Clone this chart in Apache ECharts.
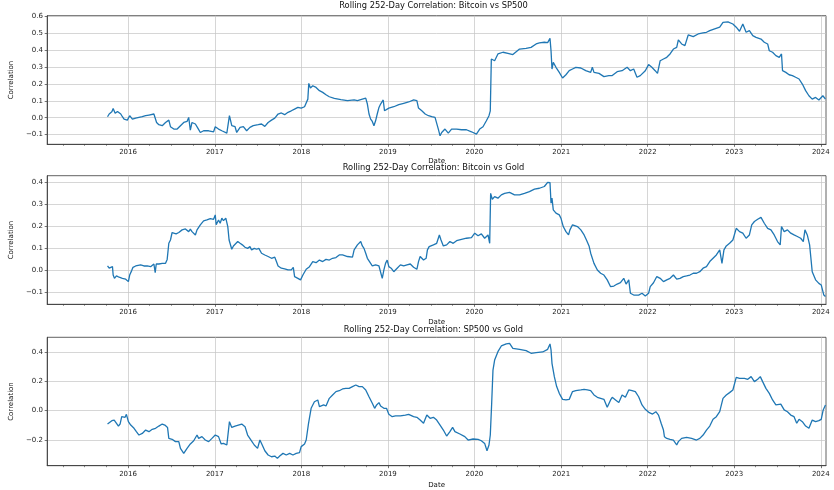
<!DOCTYPE html>
<html>
<head>
<meta charset="utf-8">
<script src="https://cdn.jsdelivr.net/npm/echarts@6/dist/echarts.min.js"></script>
<style>
html,body{margin:0;padding:0;background:#fff;}
#chart{width:834px;height:490px;}
</style>
</head>
<body>
<div id="chart"></div>
<script>
// ---- data: dates as decimal years ----
const titles = [
  'Rolling 252-Day Correlation: Bitcoin vs SP500',
  'Rolling 252-Day Correlation: Bitcoin vs Gold',
  'Rolling 252-Day Correlation: SP500 vs Gold'
];
const yearTicks = [2016, 2017, 2018, 2019, 2020, 2021, 2022, 2023, 2024];
const yTicks1 = [-0.1, 0.0, 0.1, 0.2, 0.3, 0.4, 0.5, 0.6];
const yTicks2 = [-0.1, 0.0, 0.1, 0.2, 0.3, 0.4];
const yTicks3 = [-0.2, 0.0, 0.2, 0.4];

const t1 = [2015.763,2015.782,2015.813,2015.828,2015.851,2015.878,2015.897,2015.916,2015.935,2015.954,2015.992,2016.019,2016.031,2016.050,2016.088,2016.126,2016.164,2016.203,2016.241,2016.298,2016.317,2016.329,2016.355,2016.394,2016.432,2016.470,2016.489,2016.527,2016.566,2016.604,2016.642,2016.680,2016.699,2016.718,2016.737,2016.776,2016.806,2016.833,2016.871,2016.929,2016.986,2017.005,2017.043,2017.081,2017.139,2017.158,2017.169,2017.196,2017.234,2017.253,2017.292,2017.330,2017.368,2017.406,2017.444,2017.502,2017.540,2017.578,2017.616,2017.655,2017.693,2017.731,2017.769,2017.807,2017.846,2017.884,2017.922,2017.960,2017.998,2018.037,2018.056,2018.075,2018.086,2018.105,2018.132,2018.170,2018.209,2018.247,2018.285,2018.323,2018.381,2018.457,2018.533,2018.610,2018.648,2018.705,2018.744,2018.763,2018.782,2018.801,2018.820,2018.839,2018.858,2018.877,2018.897,2018.916,2018.935,2018.946,2018.961,2018.984,2019.011,2019.068,2019.126,2019.183,2019.240,2019.298,2019.335,2019.354,2019.392,2019.431,2019.469,2019.507,2019.545,2019.564,2019.583,2019.603,2019.622,2019.660,2019.698,2019.736,2019.794,2019.851,2019.908,2019.966,2020.023,2020.061,2020.099,2020.138,2020.168,2020.183,2020.195,2020.214,2020.233,2020.271,2020.329,2020.386,2020.443,2020.520,2020.596,2020.653,2020.711,2020.749,2020.806,2020.844,2020.871,2020.883,2020.894,2020.909,2020.940,2020.978,2021.016,2021.055,2021.093,2021.131,2021.169,2021.227,2021.284,2021.341,2021.360,2021.379,2021.437,2021.494,2021.551,2021.590,2021.647,2021.704,2021.762,2021.800,2021.838,2021.876,2021.914,2021.972,2022.010,2022.048,2022.086,2022.113,2022.144,2022.182,2022.220,2022.258,2022.297,2022.335,2022.354,2022.373,2022.392,2022.430,2022.468,2022.526,2022.583,2022.640,2022.679,2022.717,2022.774,2022.832,2022.870,2022.927,2022.984,2023.023,2023.061,2023.099,2023.137,2023.175,2023.214,2023.252,2023.309,2023.347,2023.386,2023.405,2023.443,2023.481,2023.520,2023.546,2023.558,2023.596,2023.634,2023.672,2023.710,2023.749,2023.787,2023.825,2023.863,2023.901,2023.940,2023.978,2024.024,2024.054];
const v1 = [0.006,0.022,0.035,0.055,0.026,0.037,0.041,0.022,0.006,-0.008,-0.014,0.012,0.020,-0.008,-0.002,0.002,0.006,0.012,0.016,0.022,0.026,-0.028,-0.041,-0.047,-0.028,-0.014,-0.053,-0.067,-0.067,-0.047,-0.028,-0.022,0.002,-0.073,-0.028,-0.037,-0.063,-0.087,-0.077,-0.077,-0.083,-0.053,-0.067,-0.077,-0.091,-0.087,0.012,-0.047,-0.053,-0.087,-0.057,-0.053,-0.077,-0.057,-0.047,-0.041,-0.037,-0.051,-0.028,-0.014,-0.002,0.022,0.028,0.018,0.032,0.041,0.051,0.061,0.057,0.065,0.071,0.110,0.203,0.176,0.189,0.179,0.160,0.150,0.136,0.124,0.114,0.107,0.101,0.105,0.101,0.110,0.116,0.081,0.022,-0.008,-0.022,-0.047,-0.018,0.022,0.061,0.081,0.091,0.105,0.041,0.051,0.057,0.065,0.077,0.085,0.093,0.105,0.101,0.057,0.041,0.022,0.012,0.006,0.002,-0.002,-0.067,-0.107,-0.087,-0.067,-0.091,-0.067,-0.067,-0.071,-0.071,-0.083,-0.097,-0.067,-0.053,-0.018,0.012,0.041,0.347,0.357,0.337,0.377,0.387,0.381,0.373,0.406,0.410,0.416,0.436,0.442,0.446,0.444,0.469,0.396,0.288,0.327,0.298,0.268,0.235,0.254,0.278,0.288,0.298,0.294,0.278,0.268,0.298,0.268,0.262,0.243,0.249,0.249,0.272,0.278,0.298,0.278,0.288,0.239,0.249,0.278,0.314,0.298,0.278,0.262,0.337,0.347,0.357,0.377,0.406,0.416,0.460,0.471,0.436,0.426,0.489,0.479,0.495,0.501,0.505,0.515,0.525,0.535,0.564,0.566,0.554,0.535,0.511,0.554,0.505,0.515,0.485,0.475,0.465,0.446,0.436,0.396,0.387,0.367,0.357,0.377,0.278,0.268,0.254,0.249,0.239,0.229,0.199,0.160,0.130,0.110,0.120,0.105,0.130,0.110];

const t2 = [2015.763,2015.782,2015.794,2015.805,2015.820,2015.828,2015.843,2015.866,2015.897,2015.935,2015.973,2016.004,2016.019,2016.042,2016.057,2016.088,2016.107,2016.145,2016.183,2016.222,2016.260,2016.298,2016.313,2016.325,2016.355,2016.394,2016.432,2016.451,2016.470,2016.489,2016.508,2016.527,2016.554,2016.585,2016.623,2016.661,2016.699,2016.718,2016.737,2016.776,2016.795,2016.833,2016.871,2016.909,2016.948,2016.986,2017.005,2017.016,2017.043,2017.062,2017.081,2017.100,2017.127,2017.150,2017.165,2017.181,2017.196,2017.215,2017.234,2017.265,2017.292,2017.318,2017.349,2017.379,2017.406,2017.425,2017.456,2017.483,2017.509,2017.540,2017.578,2017.616,2017.655,2017.693,2017.712,2017.731,2017.769,2017.807,2017.846,2017.865,2017.884,2017.907,2017.922,2017.960,2017.991,2018.018,2018.056,2018.094,2018.132,2018.170,2018.209,2018.247,2018.285,2018.323,2018.361,2018.400,2018.438,2018.476,2018.533,2018.591,2018.610,2018.648,2018.686,2018.705,2018.724,2018.744,2018.763,2018.782,2018.801,2018.820,2018.858,2018.897,2018.935,2018.954,2018.973,2018.992,2019.011,2019.038,2019.068,2019.107,2019.145,2019.183,2019.221,2019.259,2019.297,2019.335,2019.354,2019.373,2019.392,2019.412,2019.442,2019.457,2019.477,2019.488,2019.526,2019.564,2019.595,2019.614,2019.641,2019.679,2019.717,2019.755,2019.794,2019.851,2019.908,2019.966,2020.004,2020.042,2020.080,2020.118,2020.157,2020.176,2020.187,2020.206,2020.233,2020.271,2020.310,2020.348,2020.405,2020.462,2020.520,2020.577,2020.634,2020.692,2020.749,2020.806,2020.844,2020.871,2020.883,2020.894,2020.909,2020.940,2020.978,2020.997,2021.024,2021.055,2021.085,2021.101,2021.131,2021.188,2021.227,2021.265,2021.292,2021.322,2021.341,2021.379,2021.418,2021.456,2021.494,2021.532,2021.571,2021.609,2021.647,2021.685,2021.723,2021.750,2021.781,2021.800,2021.838,2021.857,2021.895,2021.934,2021.972,2022.010,2022.029,2022.067,2022.105,2022.144,2022.182,2022.220,2022.258,2022.297,2022.335,2022.373,2022.411,2022.449,2022.488,2022.526,2022.564,2022.602,2022.640,2022.679,2022.717,2022.755,2022.793,2022.832,2022.858,2022.881,2022.908,2022.946,2022.984,2023.023,2023.061,2023.099,2023.137,2023.175,2023.202,2023.233,2023.271,2023.309,2023.347,2023.386,2023.424,2023.462,2023.500,2023.531,2023.546,2023.577,2023.615,2023.653,2023.691,2023.729,2023.768,2023.798,2023.817,2023.844,2023.871,2023.901,2023.940,2023.978,2024.005,2024.035,2024.054];
const v2 = [0.018,0.008,0.015,0.000,0.015,-0.023,-0.038,-0.027,-0.033,-0.038,-0.042,-0.053,-0.023,-0.003,0.012,0.018,0.027,0.023,0.018,0.018,0.015,0.027,-0.012,0.027,0.027,0.030,0.030,0.048,0.121,0.136,0.170,0.167,0.164,0.170,0.182,0.186,0.174,0.185,0.174,0.159,0.182,0.205,0.223,0.227,0.233,0.230,0.250,0.205,0.227,0.212,0.235,0.224,0.235,0.197,0.136,0.144,0.094,0.109,0.103,0.129,0.121,0.114,0.103,0.098,0.106,0.091,0.098,0.094,0.098,0.076,0.068,0.061,0.053,0.058,0.038,0.018,0.008,0.005,0.000,-0.008,0.000,0.012,-0.030,-0.038,-0.045,-0.023,0.003,0.015,0.038,0.033,0.045,0.038,0.048,0.045,0.053,0.056,0.068,0.068,0.061,0.058,0.091,0.114,0.129,0.109,0.098,0.076,0.053,0.061,0.030,0.018,0.023,0.018,-0.038,0.000,0.030,0.045,0.015,0.008,-0.008,0.008,0.023,0.018,0.023,0.027,0.012,0.003,0.038,0.061,0.068,0.045,0.053,0.091,0.106,0.114,0.114,0.121,0.159,0.136,0.109,0.114,0.129,0.121,0.133,0.139,0.144,0.147,0.167,0.155,0.164,0.144,0.159,0.121,0.348,0.321,0.333,0.326,0.341,0.348,0.352,0.341,0.341,0.348,0.356,0.367,0.371,0.379,0.398,0.397,0.303,0.326,0.273,0.258,0.250,0.235,0.197,0.174,0.159,0.182,0.205,0.197,0.182,0.159,0.136,0.109,0.076,0.030,0.000,-0.015,-0.023,-0.045,-0.076,-0.073,-0.064,-0.058,-0.038,-0.064,-0.045,-0.106,-0.114,-0.121,-0.114,-0.106,-0.118,-0.106,-0.076,-0.058,-0.030,-0.038,-0.053,-0.045,-0.038,-0.023,-0.042,-0.038,-0.030,-0.027,-0.023,-0.015,-0.015,-0.008,0.008,0.015,0.038,0.053,0.068,0.091,0.030,0.091,0.109,0.121,0.136,0.189,0.174,0.167,0.144,0.159,0.205,0.220,0.230,0.239,0.212,0.189,0.182,0.159,0.129,0.114,0.197,0.174,0.182,0.167,0.159,0.152,0.144,0.129,0.182,0.159,0.114,-0.008,-0.045,-0.061,-0.068,-0.114,-0.121];

const t3 = [2015.763,2015.782,2015.813,2015.840,2015.859,2015.889,2015.908,2015.927,2015.943,2015.966,2015.981,2016.004,2016.031,2016.069,2016.096,2016.126,2016.164,2016.203,2016.241,2016.279,2016.317,2016.355,2016.394,2016.424,2016.455,2016.470,2016.508,2016.546,2016.585,2016.604,2016.642,2016.680,2016.718,2016.757,2016.795,2016.814,2016.852,2016.890,2016.929,2016.967,2017.005,2017.043,2017.074,2017.100,2017.139,2017.158,2017.169,2017.196,2017.234,2017.272,2017.311,2017.349,2017.379,2017.418,2017.456,2017.494,2017.521,2017.548,2017.578,2017.616,2017.655,2017.693,2017.723,2017.750,2017.788,2017.826,2017.865,2017.903,2017.941,2017.979,2017.998,2018.037,2018.056,2018.083,2018.113,2018.151,2018.190,2018.209,2018.228,2018.258,2018.285,2018.323,2018.361,2018.400,2018.438,2018.476,2018.514,2018.552,2018.591,2018.629,2018.667,2018.705,2018.744,2018.782,2018.820,2018.847,2018.870,2018.897,2018.916,2018.954,2018.984,2019.011,2019.050,2019.088,2019.145,2019.202,2019.240,2019.297,2019.335,2019.373,2019.412,2019.450,2019.488,2019.526,2019.564,2019.603,2019.641,2019.679,2019.717,2019.748,2019.775,2019.832,2019.889,2019.927,2019.985,2020.042,2020.080,2020.118,2020.145,2020.168,2020.183,2020.199,2020.214,2020.233,2020.271,2020.310,2020.367,2020.405,2020.443,2020.520,2020.596,2020.653,2020.711,2020.787,2020.844,2020.871,2020.883,2020.894,2020.921,2020.948,2020.978,2021.016,2021.055,2021.093,2021.131,2021.169,2021.227,2021.265,2021.303,2021.341,2021.379,2021.418,2021.456,2021.494,2021.532,2021.571,2021.590,2021.628,2021.666,2021.704,2021.742,2021.781,2021.819,2021.857,2021.895,2021.934,2021.972,2022.018,2022.056,2022.094,2022.125,2022.155,2022.182,2022.193,2022.220,2022.258,2022.297,2022.335,2022.354,2022.392,2022.449,2022.507,2022.564,2022.602,2022.640,2022.679,2022.717,2022.755,2022.793,2022.832,2022.870,2022.908,2022.946,2022.984,2023.023,2023.061,2023.118,2023.156,2023.195,2023.233,2023.271,2023.301,2023.328,2023.366,2023.405,2023.443,2023.481,2023.538,2023.577,2023.615,2023.653,2023.691,2023.722,2023.749,2023.787,2023.825,2023.863,2023.901,2023.940,2023.978,2024.005,2024.028,2024.054];
const v3 = [-0.091,-0.082,-0.068,-0.064,-0.075,-0.105,-0.091,-0.041,-0.030,-0.045,-0.025,-0.075,-0.098,-0.120,-0.143,-0.166,-0.155,-0.132,-0.143,-0.127,-0.120,-0.105,-0.091,-0.098,-0.114,-0.189,-0.195,-0.211,-0.211,-0.257,-0.291,-0.257,-0.227,-0.205,-0.166,-0.189,-0.177,-0.200,-0.211,-0.189,-0.166,-0.177,-0.227,-0.223,-0.234,-0.245,-0.075,-0.114,-0.105,-0.098,-0.091,-0.109,-0.166,-0.200,-0.234,-0.257,-0.200,-0.234,-0.273,-0.302,-0.314,-0.309,-0.325,-0.309,-0.291,-0.302,-0.291,-0.302,-0.291,-0.286,-0.245,-0.227,-0.200,-0.086,0.016,0.061,0.073,0.027,0.016,0.039,0.032,0.084,0.107,0.130,0.136,0.148,0.152,0.152,0.164,0.175,0.164,0.164,0.141,0.095,0.050,0.016,0.039,0.055,0.032,0.016,0.016,-0.025,-0.041,-0.036,-0.036,-0.030,-0.025,-0.041,-0.045,-0.064,-0.086,-0.030,-0.052,-0.045,-0.064,-0.098,-0.132,-0.173,-0.143,-0.114,-0.143,-0.159,-0.177,-0.200,-0.193,-0.195,-0.205,-0.223,-0.273,-0.234,-0.166,0.050,0.277,0.345,0.402,0.441,0.455,0.459,0.425,0.418,0.409,0.391,0.395,0.400,0.418,0.455,0.414,0.323,0.232,0.164,0.118,0.077,0.073,0.077,0.130,0.136,0.141,0.145,0.141,0.136,0.107,0.091,0.084,0.077,0.023,0.073,0.091,0.073,0.055,0.107,0.091,0.141,0.136,0.130,0.095,0.039,0.009,-0.014,-0.023,-0.007,-0.030,-0.086,-0.132,-0.177,-0.189,-0.195,-0.200,-0.234,-0.211,-0.189,-0.182,-0.189,-0.200,-0.189,-0.166,-0.132,-0.105,-0.059,-0.041,-0.007,0.084,0.107,0.123,0.141,0.227,0.220,0.220,0.214,0.232,0.198,0.214,0.232,0.198,0.152,0.118,0.073,0.039,0.045,0.005,-0.007,-0.030,-0.041,-0.086,-0.059,-0.075,-0.105,-0.120,-0.064,-0.075,-0.068,-0.059,0.005,0.039];

// ---- helpers ----
function yearToTs(y) {
  const yr = Math.floor(y);
  const a = Date.UTC(yr, 0, 1), b = Date.UTC(yr + 1, 0, 1);
  return a + (y - yr) * (b - a);
}
const xMin = Date.UTC(2015, 0, 25);
const xMax = Date.UTC(2024, 0, 23);
const majorX = yearTicks.map(y => Date.UTC(y, 0, 1));
const minorX = [];
for (let y = 2015; y <= 2023; y++) {
  [3, 6, 9].forEach(m => { const ts = Date.UTC(y, m, 1); if (ts > xMin && ts < xMax) minorX.push(ts); });
}
const FONT = 'DejaVu Sans';
const fmtY = v => (v < 0 ? '\u2212' : '') + Math.abs(v).toFixed(1);

const grids = [
  {left: 41, right: 8, top: 15.7, height: 128.6},
  {left: 41, right: 8, top: 175.7, height: 128.6},
  {left: 41, right: 8, top: 337.3, height: 128.4}
];
const yRanges = [[-0.157, 0.603, yTicks1], [-0.156, 0.428, yTicks2], [-0.375, 0.5, yTicks3]];
const titleTops = [1.8, 163.6, 325.4];
const nameGaps = [13.5, 14.5, 15.5];
const series = [[t1, v1], [t2, v2], [t3, v3]];

const option = {
  backgroundColor: '#fff',
  animation: false,
  title: titles.map((t, i) => ({
    text: t, left: 433.5, top: titleTops[i], textAlign: 'center', padding: 0,
    textStyle: {fontFamily: FONT, fontSize: 8.3, fontWeight: 'normal', color: '#111'}
  })),
  grid: grids.map(g => Object.assign({show: true, borderColor: '#3a3a3a', borderWidth: 0.8, backgroundColor: '#fff'}, g)),
  xAxis: [],
  yAxis: [],
  series: []
};

for (let i = 0; i < 3; i++) {
  option.xAxis.push({
    type: 'value', gridIndex: i, min: xMin, max: xMax, position: 'bottom',
    name: 'Date', nameLocation: 'middle', nameGap: nameGaps[i],
    nameTextStyle: {fontFamily: FONT, fontSize: 7, color: '#111'},
    axisLine: {show: true, onZero: false, lineStyle: {color: '#3a3a3a', width: 0.8}},
    axisTick: {show: true, length: 2.5, customValues: majorX, lineStyle: {color: '#3a3a3a', width: 0.7}},
    axisLabel: {customValues: majorX, margin: 4.5, fontFamily: FONT, fontSize: 7, color: '#222',
      formatter: v => String(new Date(v).getUTCFullYear())},
    splitLine: {show: true, lineStyle: {color: '#c4c4c4', width: 0.7}}
  });
  option.xAxis.push({
    type: 'value', gridIndex: i, min: xMin, max: xMax, position: 'bottom',
    axisLine: {show: false, onZero: false},
    axisTick: {show: true, length: 1.5, customValues: minorX, lineStyle: {color: '#3a3a3a', width: 0.6}},
    axisLabel: {show: false},
    splitLine: {show: false}
  });
  const yr = yRanges[i];
  option.yAxis.push({
    type: 'value', gridIndex: i, min: yr[0], max: yr[1],
    name: 'Correlation', nameLocation: 'middle', nameRotate: 90, nameGap: 25,
    nameTextStyle: {fontFamily: FONT, fontSize: 7, color: '#111'},
    axisLine: {show: true, onZero: false, lineStyle: {color: '#3a3a3a', width: 0.8}},
    axisTick: {show: true, length: 2.5, customValues: yr[2], lineStyle: {color: '#3a3a3a', width: 0.7}},
    axisLabel: {customValues: yr[2], margin: 4.3, fontFamily: FONT, fontSize: 7, color: '#222', formatter: fmtY},
    splitLine: {show: true, lineStyle: {color: '#c4c4c4', width: 0.7}}
  });
  const [tt, vv] = series[i];
  option.series.push({
    type: 'line', name: titles[i], xAxisIndex: i * 2, yAxisIndex: i,
    data: tt.map((t, k) => [yearToTs(t), vv[k]]),
    showSymbol: false, symbol: 'none',
    lineStyle: {color: '#1f77b4', width: 1.3},
    itemStyle: {color: '#1f77b4'}
  });
}

const chart = echarts.init(document.getElementById('chart'), null, {renderer: 'canvas'});
chart.setOption(option);
</script>
</body>
</html>
